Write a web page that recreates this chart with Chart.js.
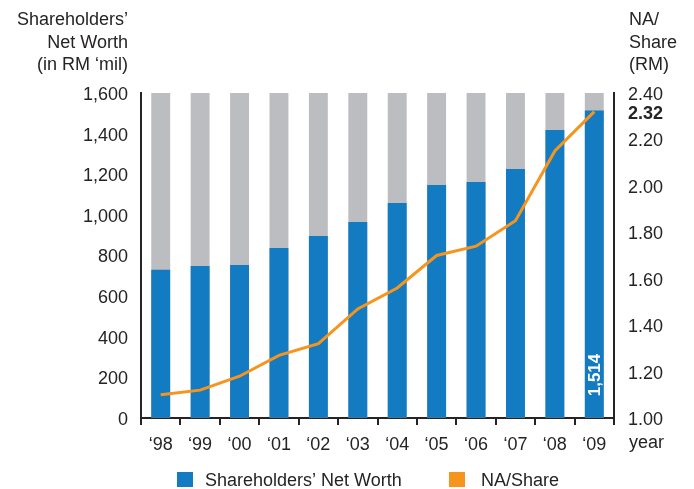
<!DOCTYPE html>
<html><head><meta charset="utf-8">
<script src="https://cdn.jsdelivr.net/npm/chart.js@4/dist/chart.umd.min.js"></script>
<style>html,body{margin:0;padding:0;background:#fff}canvas{display:block}</style>
</head><body>
<canvas id="c" width="694" height="489"></canvas>
<script>
const categories = ['‘98','‘99','‘00','‘01','‘02','‘03','‘04','‘05','‘06','‘07','‘08','‘09'];
const netWorth = [730, 748, 753, 837, 896, 965, 1058, 1147, 1162, 1226, 1418, 1514];
const naShare = [1.10, 1.12, 1.18, 1.27, 1.32, 1.47, 1.56, 1.70, 1.74, 1.85, 2.15, 2.32];
const backdrop = [1600, 1600, 1600, 1600, 1600, 1600, 1600, 1600, 1600, 1600, 1600, 1600];
const naExtraTicks = [2.32];
const barLabel = '1,514';
const leftTitle = ['Shareholders’', 'Net Worth', '(in RM ‘mil)'];
const rightTitle = ['NA/', 'Share', '(RM)'];
const legendItems = ['Shareholders’ Net Worth', 'NA/Share'];

const BLUE = '#137bc2', GRAY = '#bcbdc0', ORANGE = '#f7941d', DARK = '#262324';
const FAM = "'Liberation Sans', Arial, Helvetica, sans-serif";
const F = {family: FAM, size: 18};

const overlay = {
  id: 'overlay',
  afterDraw(chart) {
    const ctx = chart.ctx, ca = chart.chartArea;
    ctx.save();
    ctx.fillStyle = DARK;
    ctx.font = '18px ' + FAM;
    ctx.textBaseline = 'alphabetic';
    ctx.textAlign = 'right';
    const bl = [25, 48, 70];
    leftTitle.forEach((t, i) => ctx.fillText(t, 128, bl[i]));
    ctx.textAlign = 'left';
    rightTitle.forEach((t, i) => ctx.fillText(t, 629, bl[i]));
    ctx.fillText('year', 629, 448);
    // legend
    ctx.fillStyle = BLUE; ctx.fillRect(177, 472, 16, 15);
    ctx.fillStyle = ORANGE; ctx.fillRect(449, 472, 16, 15);
    ctx.fillStyle = DARK;
    ctx.fillText(legendItems[0], 205, 486);
    ctx.fillText(legendItems[1], 481, 486);
    // bar label
    const meta = chart.getDatasetMeta(1);
    const el = meta.data[meta.data.length - 1];
    ctx.translate(el.x, ca.bottom - 43);
    ctx.rotate(-Math.PI / 2);
    ctx.fillStyle = '#ffffff';
    ctx.font = 'bold 17px ' + FAM;
    ctx.textAlign = 'center';
    ctx.textBaseline = 'middle';
    ctx.fillText(barLabel, 0, 1);
    ctx.restore();
  }
};

new Chart(document.getElementById('c'), {
  type: 'bar',
  data: {
    labels: categories,
    datasets: [
      {type: 'line', label: legendItems[1], data: naShare, yAxisID: 'y2', borderColor: ORANGE, borderWidth: 3, pointRadius: 0, tension: 0, order: 0},
      {label: legendItems[0], data: netWorth, backgroundColor: BLUE, yAxisID: 'y', order: 1, grouped: false, barPercentage: 0.48, categoryPercentage: 1},
      {label: 'backdrop', data: backdrop, backgroundColor: GRAY, yAxisID: 'y', order: 2, grouped: false, barPercentage: 0.48, categoryPercentage: 1}
    ]
  },
  options: {
    responsive: false,
    animation: false,
    layout: {padding: {top: 93, left: 0, right: 0, bottom: 0}},
    plugins: {legend: {display: false}, tooltip: {enabled: false}},
    scales: {
      x: {
        grid: {offset: true, drawOnChartArea: false, drawTicks: true, tickLength: 7, color: DARK, lineWidth: 2},
        border: {color: DARK, width: 2},
        ticks: {font: F, color: DARK, padding: 9, maxRotation: 0, autoSkip: false},
        afterFit: s => { s.height = 71; }
      },
      y: {
        position: 'left', min: 0, max: 1600,
        ticks: {stepSize: 200, padding: 13, font: F, color: DARK, labelOffset: 2},
        grid: {drawOnChartArea: false, drawTicks: false},
        border: {color: DARK, width: 2},
        afterFit: s => { s.width = 141; }
      },
      y2: {
        position: 'right', min: 1, max: 2.4,
        ticks: {
          stepSize: 0.2, padding: 14, autoSkip: false, color: DARK, labelOffset: 2,
          callback: v => Number(v).toFixed(2),
          font: c => (c.tick && naExtraTicks.includes(c.tick.value)) ? {family: FAM, size: 18, weight: 'bold'} : F
        },
        afterBuildTicks: s => {
          naExtraTicks.forEach(v => s.ticks.push({value: v}));
          s.ticks.sort((a, b) => a.value - b.value);
        },
        grid: {drawOnChartArea: false, drawTicks: false},
        border: {color: DARK, width: 2},
        afterFit: s => { s.width = 80; }
      }
    }
  },
  plugins: [overlay]
});
</script>
</body></html>
